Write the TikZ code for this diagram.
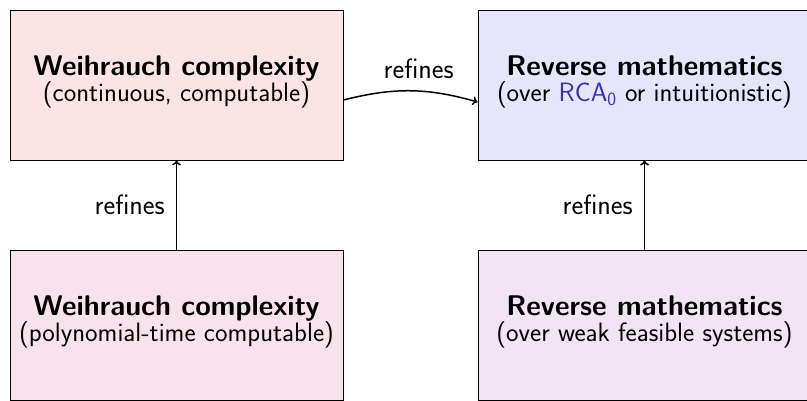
\documentclass[tikz,border=0pt]{standalone}
\usepackage{fontspec}
\usetikzlibrary{arrows.meta}
\definecolor{structure}{rgb}{0.2,0.2,0.7}
\definecolor{fillTL}{RGB}{253,228,228}
\definecolor{fillTR}{RGB}{229,229,252}
\definecolor{fillBL}{RGB}{248,226,235}
\definecolor{fillBR}{RGB}{241,228,243}
\begin{document}
\begin{tikzpicture}[x=1pt,y=1pt,
  box/.style={draw=black, line width=0.9pt, rectangle,
    minimum width=333pt, minimum height=150pt, inner sep=0pt},
  boxtext/.style={align=center, inner sep=0pt,
    font=\sffamily\fontsize{26.6}{26}\selectfont},
  arr/.style={-{To[length=5pt,width=9pt]}, line width=1.5pt},
  lbl/.style={font=\sffamily\fontsize{28}{30}\selectfont, inner sep=2pt}]
\useasboundingbox (0,0) rectangle (807,401);
\clip (0,0) rectangle (807,401);
\newcommand{\boxtitle}[1]{{\fontsize{28.4}{26}\selectfont\bfseries #1}}

% the four boxes
\node[box, fill=fillTL] (tl) at (176.5,316) {};
\node[box, fill=fillTR] (tr) at (644.5,316) {};
\node[box, fill=fillBL] (bl) at (176.5,76) {};
\node[box, fill=fillBR] (br) at (644.5,76) {};

% their texts, set a little above the centre
\node[boxtext] (tlt) at ([yshift=3pt]tl.center)
  {\boxtitle{Weihrauch complexity}\\(continuous, computable)};
\node[boxtext] (trt) at ([yshift=3pt]tr.center)
  {\boxtitle{Reverse mathematics}\\(over \textcolor{structure}{RCA\textsubscript{0}} or intuitionistic)};
\node[boxtext] (blt) at ([yshift=3pt]bl.center)
  {\boxtitle{Weihrauch complexity}\\(polynomial-time computable)};
\node[boxtext] (brt) at ([yshift=3pt]br.center)
  {\boxtitle{Reverse mathematics}\\(over weak feasible systems)};

% refinement arrows
\draw[arr] ([yshift=-15pt]tl.east) to[bend left=15]
  node[lbl, above=9pt, xshift=8pt] (lh) {refines} ([yshift=-17pt]tr.west);
\draw[arr] (bl.north) -- node[lbl, left=9pt] (lv1) {refines} (tl.south);
\draw[arr] (br.north) -- node[lbl, left=9pt] (lv2) {refines} (tr.south);
\end{tikzpicture}
\end{document}
